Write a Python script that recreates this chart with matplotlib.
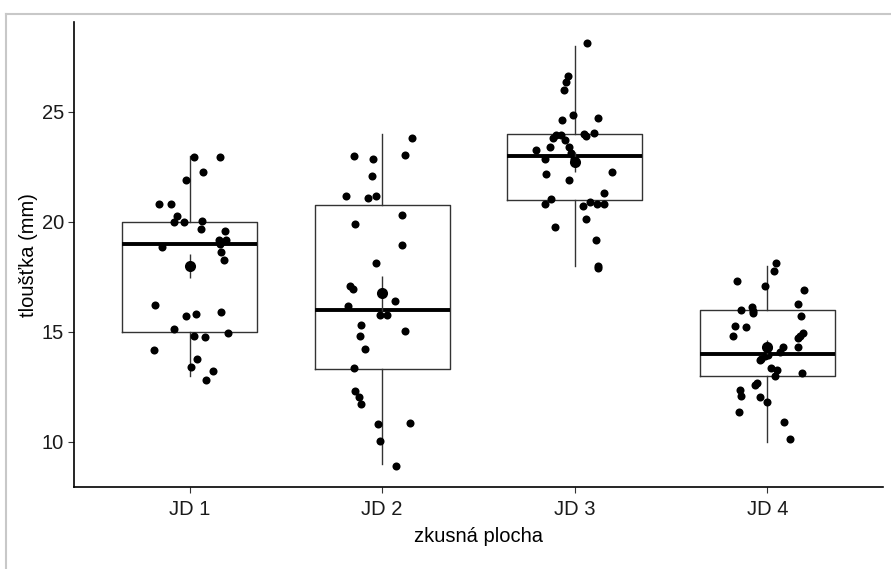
import matplotlib
matplotlib.use("Agg")
import matplotlib.pyplot as plt
from matplotlib.lines import Line2D
import numpy as np

plt.rcParams['font.family'] = ['Liberation Sans', 'DejaVu Sans']

# zkusne plochy
groups = ["JD 1", "JD 2", "JD 3", "JD 4"]

# boxplot statistiky (dolni vous, Q1, median, Q3, horni vous)
whislo = [13, 9, 18, 10]
q1 = [15, 13.3, 21, 13]
med = [19, 16, 23, 14]
q3 = [20, 20.75, 24, 16]
whishi = [23, 24, 28, 18]

# prumer +- SE
mean = [18.0, 16.74, 22.71, 14.3]
se = [0.55, 0.78, 0.45, 0.33]

# namerene hodnoty (s jitterem): posun v x a tloustka
jd1_dx = [0.022, 0.157, 0.071, -0.017, -0.157, -0.098, -0.065, -0.081, -0.031, 0.064,
          0.059, 0.183, -0.141, 0.155, 0.190, 0.159, 0.162, 0.178, -0.178, -0.017,
          0.033, 0.162, -0.079, 0.022, 0.081, 0.198, -0.185, 0.038, 0.010, 0.121, 0.084]
jd1_y = [22.95, 22.95, 22.27, 21.89, 20.79, 20.79, 20.27, 19.99, 20.0, 20.05,
         19.68, 19.60, 18.87, 19.15, 19.15, 18.98, 18.63, 18.26, 16.21, 15.72,
         15.79, 15.88, 15.11, 14.81, 14.76, 14.92, 14.16, 13.78, 13.39, 13.21, 12.79]

jd2_dx = [0.157, 0.119, -0.145, -0.048, -0.055, -0.188, -0.073, -0.031, 0.104, -0.140,
          0.104, -0.033, -0.166, -0.150, 0.066, -0.178, -0.012, 0.027, -0.109, -0.114,
          0.119, -0.090, -0.145, -0.141, -0.121, -0.109, -0.022, 0.147, -0.012, 0.074]
jd2_y = [23.79, 23.03, 22.98, 22.83, 22.07, 21.16, 21.06, 21.16, 20.31, 19.88,
         18.92, 18.11, 17.09, 16.95, 16.39, 16.16, 15.77, 15.77, 15.30, 14.81,
         15.02, 14.23, 13.33, 12.30, 12.05, 11.70, 10.81, 10.85, 10.03, 8.90]

jd3_dx = [0.064, -0.033, -0.047, -0.058, -0.010, -0.065, 0.123, -0.095, -0.074, -0.112,
          -0.050, 0.050, 0.060, 0.102, -0.131, -0.029, -0.200, -0.019, -0.155, -0.003,
          -0.147, 0.194, -0.029, 0.154, -0.126, -0.157, 0.044, 0.080, 0.116, 0.150,
          0.057, -0.104, 0.111, 0.123, 0.123]
jd3_y = [28.11, 26.63, 26.36, 25.97, 24.87, 24.63, 24.72, 23.96, 23.93, 23.80,
         23.71, 23.99, 23.88, 24.05, 23.38, 23.38, 23.27, 23.11, 22.84, 22.86,
         22.19, 22.24, 21.89, 21.32, 21.04, 20.79, 20.73, 20.88, 20.79, 20.79,
         20.12, 19.74, 19.18, 18.00, 17.90]

jd4_dx = [0.047, 0.034, -0.158, -0.014, 0.192, 0.157, -0.138, -0.080, -0.076, -0.073,
          0.175, -0.166, -0.111, -0.179, 0.183, 0.169, 0.161, 0.157, 0.002, 0.079,
          0.063, 0.003, -0.012, -0.031, -0.040, 0.017, 0.048, 0.039, 0.181, -0.052,
          -0.066, -0.143, -0.138, -0.036, -0.004, -0.145, 0.088, 0.116]
jd4_y = [18.11, 17.78, 17.31, 17.08, 16.91, 16.26, 15.97, 16.11, 15.94, 15.83,
         15.72, 15.28, 15.21, 14.81, 14.96, 14.79, 14.70, 14.32, 14.28, 14.29,
         14.08, 13.93, 13.88, 13.78, 13.70, 13.37, 13.27, 13.00, 13.14, 12.69,
         12.57, 12.36, 12.09, 12.05, 11.79, 11.37, 10.88, 10.14]

yticks = [10, 15, 20, 25]

dx_all = [jd1_dx, jd2_dx, jd3_dx, jd4_dx]
y_all = [jd1_y, jd2_y, jd3_y, jd4_y]

fig = plt.figure(figsize=(8.91, 5.69), dpi=100)
ax = fig.add_axes([0.083, 0.144, 0.908, 0.817])

stats = []
for i in range(len(groups)):
    stats.append(dict(whislo=whislo[i], q1=q1[i], med=med[i], q3=q3[i],
                      whishi=whishi[i], fliers=[]))
pos = np.arange(1, len(groups) + 1)
ax.bxp(stats, positions=pos, widths=0.7, showcaps=False,
       boxprops=dict(color="#333333", linewidth=1.0),
       whiskerprops=dict(color="#333333", linewidth=1.0),
       medianprops=dict(color="black", linewidth=2.8, solid_capstyle="butt"))

for i in range(len(groups)):
    ax.plot(pos[i] + np.array(dx_all[i]), y_all[i], "o", color="black",
            markersize=5.8, markeredgewidth=0, zorder=3)

# prumer se strednimi chybami
ax.vlines(pos, np.array(mean) - np.array(se), np.array(mean) + np.array(se),
          color="#333333", linewidth=1.0, zorder=3)
ax.plot(pos, mean, "o", color="black", markersize=8, markeredgewidth=0, zorder=4)

all_y = np.concatenate([np.array(v) for v in y_all])
lo, hi = all_y.min(), all_y.max()
pad = 0.05 * (hi - lo)
ax.set_ylim(lo - pad, hi + pad)
ax.set_xlim(0.4, 4.6)

ax.set_xticks(pos)
ax.set_xticklabels(groups)
ax.set_yticks(yticks)
ax.tick_params(axis="both", length=4, width=0.8, color="#333333",
               labelsize=14.5, labelcolor="#1a1a1a", pad=3)
ax.tick_params(axis="x", pad=5)
for s in ["top", "right"]:
    ax.spines[s].set_visible(False)
for s in ["left", "bottom"]:
    ax.spines[s].set_linewidth(1.2)
ax.set_xlabel("zkusná plocha", fontsize=14.5, labelpad=6)
ax.set_ylabel("tloušťka (mm)", fontsize=14.5, labelpad=3)

# sedy ramecek okolo
fig.add_artist(Line2D([5.5 / 891, 1.0], [1 - 13.5 / 569, 1 - 13.5 / 569],
                      transform=fig.transFigure, color="#c8c8c8", linewidth=1.5))
fig.add_artist(Line2D([5.5 / 891, 5.5 / 891], [0.0, 1 - 13.5 / 569],
                      transform=fig.transFigure, color="#c8c8c8", linewidth=1.5))

fig.savefig("out.png", dpi=100)
